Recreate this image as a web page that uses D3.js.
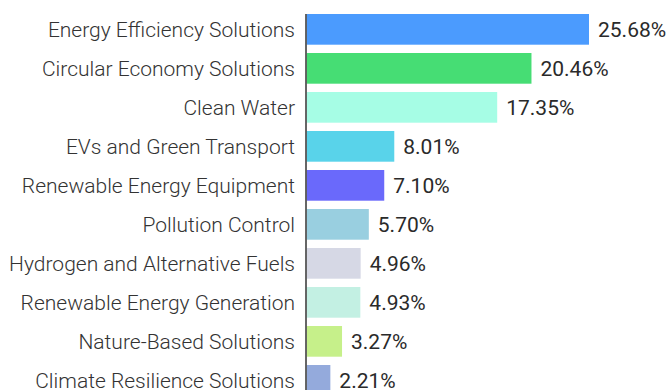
<!DOCTYPE html>
<html>
<head>
<meta charset="utf-8">
<script src="https://cdn.jsdelivr.net/npm/d3@7"></script>
<style>
  html, body { margin: 0; padding: 0; background: #fff; }
  svg { display: block; }
</style>
</head>
<body>
<svg id="chart" width="670" height="390"></svg>
<script>
// Share of green-economy revenue by theme (%)
const categories = [
  "Energy Efficiency Solutions",
  "Circular Economy Solutions",
  "Clean Water",
  "EVs and Green Transport",
  "Renewable Energy Equipment",
  "Pollution Control",
  "Hydrogen and Alternative Fuels",
  "Renewable Energy Generation",
  "Nature-Based Solutions",
  "Climate Resilience Solutions"
];
const values = [25.68, 20.46, 17.35, 8.01, 7.10, 5.70, 4.96, 4.93, 3.27, 2.21];
const colors = [
  "#4b9bfe", "#46dd74", "#a6fde5", "#59d3ea", "#6a69fb",
  "#99cfe0", "#d6d8e5", "#c3f0e3", "#c6f08a", "#94aadc"
];

const svg = d3.select("#chart");
const left = 306, right = 589;

const x = d3.scaleLinear()
  .domain([0, d3.max(values)])
  .range([left, right]);

const y = d3.scaleBand()
  .domain(categories)
  .range([9.85, 399.85])
  .paddingInner(0.213)
  .paddingOuter(0.1065);

const rows = categories.map((c, i) => ({ name: c, value: values[i], color: colors[i] }));

// bars
svg.append("g")
  .selectAll("rect")
  .data(rows)
  .join("rect")
  .attr("x", x(0) + 0.75)
  .attr("y", d => y(d.name))
  .attr("width", d => x(d.value) - x(0) - 0.75)
  .attr("height", y.bandwidth())
  .attr("fill", d => d.color);

// category axis
const axis = svg.append("g")
  .attr("transform", `translate(${left},0)`)
  .call(d3.axisLeft(y).tickSize(0).tickPadding(11));
axis.select(".domain")
  .attr("d", `M0,${y(categories[0])}V390`)
  .attr("stroke", "#333")
  .attr("stroke-width", 1.5);
axis.selectAll(".tick text")
  .attr("dy", "0.37em")
  .attr("font-family", "Roboto, sans-serif")
  .attr("font-weight", 300)
  .attr("font-size", 21)
  .attr("fill", "#333");

// value labels
svg.append("g")
  .selectAll("text")
  .data(rows)
  .join("text")
  .attr("x", d => x(d.value) + 9)
  .attr("y", d => y(d.name) + y.bandwidth() / 2)
  .attr("dy", "0.37em")
  .attr("font-family", "Roboto, sans-serif")
  .attr("font-size", 21)
  .attr("fill", "#2a2a2a")
  .text(d => d.value.toFixed(2) + "%");
</script>
</body>
</html>
